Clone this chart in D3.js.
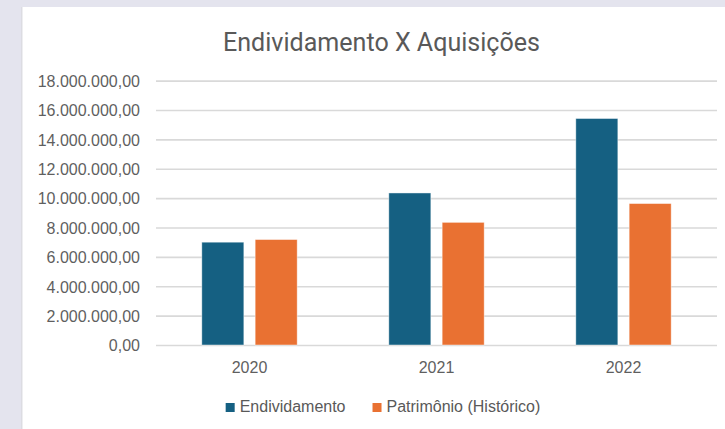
<!DOCTYPE html>
<html>
<head>
<meta charset="utf-8">
<script src="https://cdn.jsdelivr.net/npm/d3@7"></script>
<style>
  html, body { margin: 0; padding: 0; background: #e4e4ee; }
  svg { display: block; }
</style>
</head>
<body>
<svg id="chart" width="725" height="429"></svg>
<script>
// data
const years = ["2020", "2021", "2022"]
const seriesNames = ["Endividamento", "Patrimônio (Histórico)"]
const endividamento = [7000000, 10350000, 15420000]
const patrimonio = [7180000, 8350000, 9630000]
const yTicks = [0, 2e6, 4e6, 6e6, 8e6, 10e6, 12e6, 14e6, 16e6, 18e6]
const colours = ["#156082", "#E97132"]

const width = 725
const height = 429
const margin = {top: 80.6, right: 8, bottom: 84, left: 156}

let svg = d3.select("#chart")

// page background + white chart panel
svg.append("rect")
  .attr("width", width).attr("height", height)
  .style("fill", "#e4e4ee")
svg.append("rect")
  .attr("x", 21).attr("y", 7)
  .attr("width", width - 21).attr("height", height - 7)
  .style("fill", "#dcdce2")
svg.append("rect")
  .attr("x", 22.5).attr("y", 7)
  .attr("width", width - 22.5).attr("height", height - 7)
  .style("fill", "white")

let x0 = d3.scaleBand()
  .domain(years)
  .range([margin.left, width - margin.right])
  .padding(0)

let groupW = x0.bandwidth() * 0.51
let x1 = d3.scaleBand()
  .domain(seriesNames)
  .range([(x0.bandwidth() - groupW) / 2, (x0.bandwidth() + groupW) / 2])
  .paddingInner(0.212)

let y = d3.scaleLinear()
  .domain([0, 18e6])
  .range([height - margin.bottom, margin.top])

const fmt = d3.formatLocale({decimal: ",", thousands: ".", grouping: [3], currency: ["", ""]}).format(",.2f")

// gridlines + y labels
let yAxis = d3.axisLeft(y)
  .tickValues(yTicks)
  .tickSize(-(width - margin.right - margin.left))
  .tickPadding(16)
  .tickFormat(fmt)

let gy = svg.append("g")
  .attr("transform", `translate(${margin.left},0)`)
  .call(yAxis)
gy.select(".domain").remove()
gy.selectAll(".tick line")
  .style("stroke", "#d9d9d9")
  .style("stroke-width", 1.6)
gy.selectAll(".tick text")
  .style("font-family", "'Liberation Sans', Arial, sans-serif")
  .style("font-size", "16px")
  .style("fill", "#5f5f5f")
  .attr("dy", "0.36em")

// bars
const rows = years.map((yr, i) => ({year: yr, values: [endividamento[i], patrimonio[i]]}))

let groups = svg.append("g")
  .selectAll("g.year")
  .data(rows)
  .join("g")
  .attr("class", "year")
  .attr("transform", d => `translate(${x0(d.year)},0)`)

groups.selectAll("rect")
  .data(d => d.values.map((v, j) => ({name: seriesNames[j], value: v, j: j})))
  .join("rect")
  .attr("x", d => x1(d.name))
  .attr("width", x1.bandwidth())
  .attr("y", d => y(d.value))
  .attr("height", d => y(0) - y(d.value))
  .style("fill", d => colours[d.j])
  .style("stroke", "white")
  .style("stroke-opacity", 0.55)
  .style("stroke-width", 0.8)

// x labels
let xAxis = d3.axisBottom(x0).tickSize(0).tickPadding(17)
let gx = svg.append("g")
  .attr("transform", `translate(0,${y(0)})`)
  .call(xAxis)
gx.select(".domain").remove()
gx.selectAll("text")
  .style("font-family", "'Liberation Sans', Arial, sans-serif")
  .style("font-size", "16px")
  .style("fill", "#5f5f5f")

// title
svg.append("text")
  .text("Endividamento X Aquisições")
  .attr("x", 381.5)
  .attr("y", 51)
  .attr("text-anchor", "middle")
  .attr("textLength", 317)
  .attr("lengthAdjust", "spacingAndGlyphs")
  .style("font-family", "'Liberation Sans Narrow', Roboto, sans-serif")
  .style("font-size", "25px")
  .style("fill", "#595959")

// legend
let legend = svg.append("g").attr("class", "legend")
let lx = 0
seriesNames.forEach((name, j) => {
  let item = legend.append("g").attr("transform", `translate(${lx},0)`)
  item.append("rect")
    .attr("x", 0).attr("y", -9)
    .attr("width", 9).attr("height", 9)
    .style("fill", colours[j])
  let t = item.append("text")
    .text(name)
    .attr("x", 14)
    .attr("y", 0)
    .style("font-family", "'Liberation Sans', Arial, sans-serif")
    .style("font-size", "16px")
    .style("fill", "#595959")
  lx += 14 + t.node().getComputedTextLength() + 27
})
let legendW = lx - 27
legend.attr("transform", `translate(${383 - legendW / 2},412)`)
</script>
</body>
</html>
